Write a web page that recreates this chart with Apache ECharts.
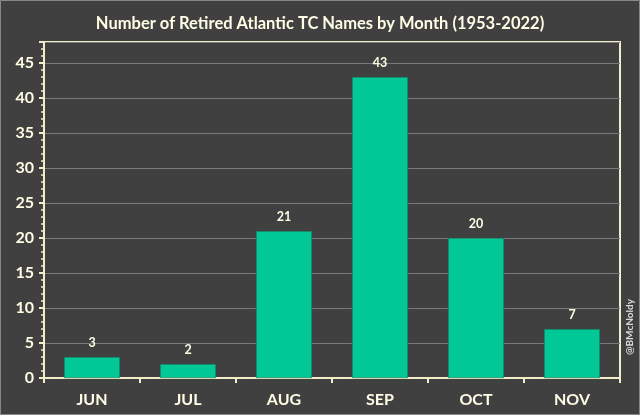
<!DOCTYPE html>
<html><head><meta charset="utf-8">
<script src="https://cdn.jsdelivr.net/npm/echarts@6/dist/echarts.min.js"></script>
<style>html,body{margin:0;padding:0;background:#404040;}#c{width:640px;height:415px;}</style>
</head><body><div id="c"></div>
<script>
const months = ['JUN','JUL','AUG','SEP','OCT','NOV'];
const retired = [3, 2, 21, 43, 20, 7];
const titleText = 'Number of Retired Atlantic TC Names by Month (1953-2022)';
const credit = '@BMcNoldy';

const cream = '#F2EEC9';
const txt = '#FFFDE6';
const font = 'Lato';
const chart = echarts.init(document.getElementById('c'));
chart.setOption({
  backgroundColor: '#404040',
  animation: false,
  title: { text: titleText, left: 'center', top: 10,
    textStyle: { color: txt, fontFamily: font, fontWeight: 'bold', fontSize: 16.5 } },
  grid: { left: 44, right: 20, top: 42, bottom: 37, show: true, borderColor: cream, borderWidth: 2, backgroundColor: 'transparent' },
  xAxis: { type: 'category', data: months,
    axisLine: { lineStyle: { color: cream, width: 2 } },
    axisTick: { show: true, length: 5, lineStyle: { color: cream, width: 2 } },
    axisLabel: { color: txt, fontFamily: font, fontWeight: 'bold', fontSize: 16, margin: 14 } },
  yAxis: { type: 'value', min: 0, max: 48, interval: 5,
    axisLine: { show: true, lineStyle: { color: cream, width: 2 } },
    axisTick: { show: true, length: 5, lineStyle: { color: cream, width: 2 } },
    minorTick: { show: true, splitNumber: 5, length: 3, lineStyle: { color: cream, width: 1.5 } },
    axisLabel: { color: txt, fontFamily: font, fontWeight: 'bold', fontSize: 16, margin: 10, showMaxLabel: false,
      formatter: v => (v % 5 === 0 ? String(v) : '') },
    splitLine: { show: true, lineStyle: { color: '#7a7a7a', width: 1 } } },
  series: [{ type: 'bar', data: retired, barWidth: 56, z: 3,
    itemStyle: { color: '#00C897', borderColor: '#1f5a48', borderWidth: 0.5 },
    label: { show: true, position: 'top', distance: 8, color: txt, fontFamily: font, fontWeight: 'bold', fontSize: 12.5 } }],
  graphic: [
    { type: 'rect', shape: { x: 0.5, y: 0.5, width: 639, height: 414 }, style: { fill: 'none', stroke: '#888', lineWidth: 1 }, silent: true },
    { type: 'text', x: 630, y: 327, rotation: Math.PI / 2,
      style: { text: credit, fill: '#D8D8D8', font: 'bold 10px ' + font, textAlign: 'center', textVerticalAlign: 'middle' } }
  ]
});
</script></body></html>
